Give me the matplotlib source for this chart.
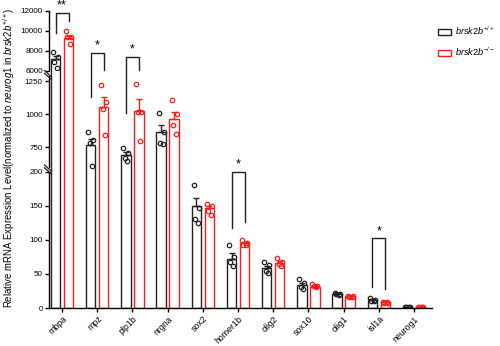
import matplotlib
matplotlib.use("Agg")
import matplotlib.pyplot as plt
from matplotlib.patches import Patch
from matplotlib.lines import Line2D
import numpy as np

plt.rcParams["font.family"] = ["Liberation Sans", "DejaVu Sans"]
plt.rcParams["mathtext.fontset"] = "custom"
plt.rcParams["mathtext.it"] = "Liberation Sans:italic"
plt.rcParams["mathtext.rm"] = "Liberation Sans"

# Data
genes = ["mbpa", "mpz", "plp1b", "nrgna", "sox2", "homer1b",
         "olig2", "sox10", "olig1", "isl1a", "neurog1"]

wt_mean = [7140, 767, 691, 870, 150, 72, 58, 34, 21, 12, 1]
wt_sem = [350, 45, 22, 47, 11, 8, 4, 3, 1, 1.5, 0.2]
ko_mean = [9240, 1054, 1029, 968, 146, 95, 66, 31, 17, 9, 1]
ko_sem = [260, 75, 90, 50, 4, 2, 3, 1, 1, 0.5, 0.2]

wt_pts = [[7900, 7340, 6900, 6240], [867, 807, 782, 610], [745, 704, 669, 645],
          [1012, 867, 786, 779], [180, 146, 130, 125], [93, 75, 68, 62],
          [68, 63, 55, 52], [42, 37, 31, 28], [22, 21, 20, 19],
          [14, 12, 10, 11], [1.2, 1, 0.9, 0.9]]
ko_pts = [[9970, 9400, 9340, 8700], [1225, 1098, 1039, 846], [1233, 1022, 1022, 796],
          [1110, 1005, 919, 851], [152, 150, 143, 137], [100, 96, 93, 92],
          [73, 68, 64, 62], [35, 33, 32, 31], [18, 17, 16, 16],
          [9, 8, 8, 9], [1, 1, 1, 1]]

# significance brackets: gene index, panel, top, left leg end, right leg end, label
sig_gene = [0, 1, 2, 5, 9]
sig_panel = [0, 1, 1, 2, 2]
sig_top = [11800, 1468, 1434, 200, 102]
sig_left = [9770, 1135, 1011, 117, 31]
sig_right = [11000, 1337, 1337, 126, 28]
sig_text = ["**", "*", "*", "*", "*"]

wt_color = "#222222"
ko_color = "#ff1a1a"

fig = plt.figure(figsize=(5, 3.46), dpi=100)
left, width = 0.098, 0.766
ax_top = fig.add_axes([left, 0.7957, width, 0.1734])
ax_mid = fig.add_axes([left, 0.5038, width, 0.2919])
ax_bot = fig.add_axes([left, 0.1098, width, 0.394])
axes = [ax_top, ax_mid, ax_bot]

x = np.arange(len(genes))
off = 0.185
bw = 0.265
jit = [-0.07, 0.07, -0.03, 0.04]

for ax in axes:
    ax.bar(x - off, wt_mean, bw, facecolor="white", edgecolor=wt_color, linewidth=1.0)
    ax.bar(x + off, ko_mean, bw, facecolor="white", edgecolor=ko_color, linewidth=1.0)
    ax.errorbar(x - off, wt_mean, yerr=[np.zeros(len(x)), wt_sem], fmt="none",
                ecolor=wt_color, elinewidth=1.0, capsize=2.5, capthick=1.0)
    ax.errorbar(x + off, ko_mean, yerr=[np.zeros(len(x)), ko_sem], fmt="none",
                ecolor=ko_color, elinewidth=1.0, capsize=2.5, capthick=1.0)
    for i in range(len(genes)):
        ax.plot([i - off + j for j in jit], wt_pts[i], "o", ms=3.2, mfc="none",
                mec=wt_color, mew=0.9)
        ax.plot([i + off + j for j in jit], ko_pts[i], "o", ms=3.2, mfc="none",
                mec=ko_color, mew=0.9)
    ax.set_xlim(-0.37, 10.51)
    for s in ["top", "right"]:
        ax.spines[s].set_visible(False)
    ax.spines["left"].set_linewidth(1.0)
    ax.spines["bottom"].set_linewidth(1.0)
    ax.tick_params(axis="y", labelsize=5.8, length=3, width=1.0, pad=1.5)
    ax.patch.set_alpha(0)

ax_top.set_ylim(6000, 12000)
ax_top.set_yticks([6000, 8000, 10000, 12000])
ax_mid.set_ylim(566, 1332)
ax_mid.set_yticks([750, 1000, 1250])
ax_mid.spines["left"].set_bounds(602, 1292)
ax_bot.set_ylim(0, 200)
ax_bot.set_yticks([0, 50, 100, 150, 200])

for ax in [ax_top, ax_mid]:
    ax.spines["bottom"].set_visible(False)
    ax.set_xticks([])

ax_bot.set_xticks(x)
ax_bot.set_xticklabels(genes, rotation=45, ha="right", rotation_mode="anchor",
                       fontsize=6.3)
ax_bot.tick_params(axis="x", length=3, width=1.0, pad=1.5)

# brackets
for g, p, top, l, r, t in zip(sig_gene, sig_panel, sig_top, sig_left, sig_right, sig_text):
    ax = axes[p]
    ax.plot([g - off, g - off, g + off, g + off], [l, top, top, r],
            color=wt_color, lw=1.0, clip_on=False)
    ax.annotate(t, xy=(g, top), xytext=(0, 1), textcoords="offset points",
                ha="center", va="bottom", fontsize=9, annotation_clip=False)

# axis break marks
for yb in [0.776, 0.503]:
    for dy in [0.0, 0.008]:
        fig.add_artist(Line2D([0.089, 0.103], [yb + 0.012 + dy, yb - 0.006 + dy],
                              color=wt_color, lw=0.9))

fig.text(0.018, 0.545,
         r"Relative mRNA Expression Level(normalized to $\it{neurog1}$ in $\it{brsk2b}^{+/+}$)",
         rotation=90, ha="center", va="center", fontsize=6.9)

handles = [Patch(facecolor="white", edgecolor=wt_color, linewidth=1.0),
           Patch(facecolor="white", edgecolor=ko_color, linewidth=1.0)]
labels = [r"$\it{brsk2b}^{+/+}$", r"$\it{brsk2b}^{-/-}$"]
fig.legend(handles, labels, loc="upper left", bbox_to_anchor=(0.868, 0.94),
           frameon=False, fontsize=6.6, handlelength=1.4, handleheight=0.65,
           handletextpad=0.5, labelspacing=1.0, borderaxespad=0)

fig.savefig("out.png", dpi=100)
